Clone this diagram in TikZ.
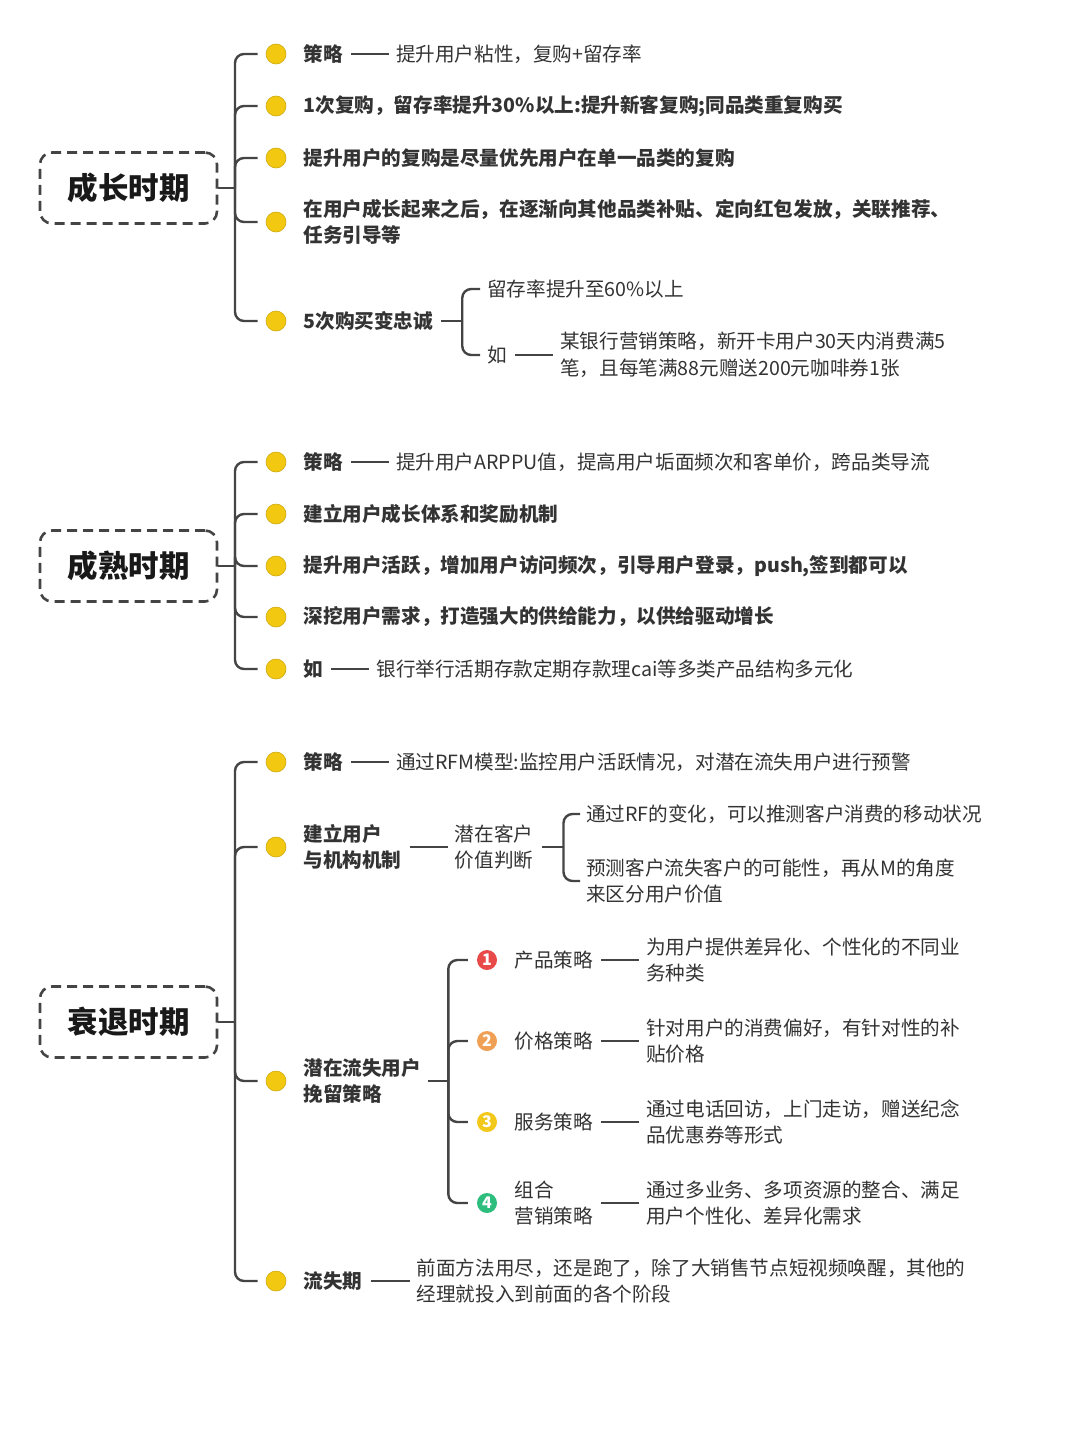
\documentclass[tikz,border=0pt]{standalone}
\usepackage{fontspec}
\setmainfont{Noto Sans CJK SC}
\usetikzlibrary{positioning}
\definecolor{linec}{HTML}{444444}
\definecolor{textc}{HTML}{333333}
\definecolor{dotc}{HTML}{F2C811}
\definecolor{numred}{HTML}{E84A4A}
\definecolor{numorange}{HTML}{F0A055}
\definecolor{numyellow}{HTML}{F2C81A}
\definecolor{numgreen}{HTML}{2DBE7E}
\begin{document}
\begin{tikzpicture}[
        x=1pt, y=-1pt,
        font=\fontsize{19.6}{26.5}\selectfont, text=textc,
        stage/.style={draw=linec, line width=2.6pt, dash pattern=on 10pt off 6pt, rounded corners=12pt, minimum width=177pt, minimum height=71pt, text=black!90, font=\fontsize{30.5}{36}\selectfont\bfseries},
        dot/.style={circle, fill=dotc, draw=dotc!85!black, line width=0.6pt, minimum size=20pt, inner sep=0pt},
        key/.style={anchor=west, inner sep=0pt, align=left, font=\fontsize{19.6}{26.5}\selectfont\bfseries},
        val/.style={anchor=west, inner sep=0pt, align=left},
        num/.style={circle, fill=#1, text=white, minimum size=20pt, inner sep=0pt, font=\fontsize{16}{16}\selectfont\bfseries},
        branch/.style={draw=linec, line width=2.4pt, rounded corners=9pt},
        link/.style={draw=linec, line width=2.4pt, shorten <=8pt, shorten >=7pt}
      ]
      \fill[white] (0,0) rectangle (1080,1440);
      \useasboundingbox (0,0) rectangle (1080,1440);

      % growth stage
      \node[stage] (grow) at (128.5,188) {成长时期};
      \coordinate (grow-j) at (235,188);
      \draw[branch] (grow.east) -- (grow-j);

      \node[dot] (g1) at (276,54) {};
      \node[key, right=17pt of g1] (g1k) {策略};
      \node[val, right=53pt of g1k] (g1v) {提升用户粘性，复购+留存率};
      \draw[link] (g1k) -- (g1v);
      \node[dot] (g2) at (276,106) {};
      \node[key, right=17pt of g2] (g2k) {1次复购，留存率提升30\%以上:提升新客复购;同品类重复购买};
      \node[dot] (g3) at (276,158) {};
      \node[key, right=17pt of g3] (g3k) {提升用户的复购是尽量优先用户在单一品类的复购};
      \node[dot] (g4) at (276,222) {};
      \node[key, right=17pt of g4] (g4k) {在用户成长起来之后，在逐渐向其他品类补贴、定向红包发放，关联推荐、\\任务引导等};
      \node[dot] (g5) at (276,321) {};
      \node[key, right=17pt of g5] (g5k) {5次购买变忠诚};
      \coordinate (g5-j) at ([xshift=29pt]g5k.east);
      \draw[branch] ([xshift=8pt]g5k.east) -- (g5-j);
      \node[val] (g5a) at (487,289) {留存率提升至60\%以上};
      \node[val] (g5b) at (487,355) {如};
      \node[val, right=53pt of g5b] (g5c) {某银行营销策略，新开卡用户30天内消费满5\\笔，且每笔满88元赠送200元咖啡券1张};
      \draw[link] (g5b) -- (g5c);
      \draw[branch] (g5-j) |- ([xshift=-7pt]g5a.west);
      \draw[branch] (g5-j) |- ([xshift=-7pt]g5b.west);

      \foreach \i in {1,...,5}
        \draw[branch] (grow-j) |- ([xshift=-8pt]g\i.west);

      % mature stage
      \node[stage] (mature) at (128.5,566) {成熟时期};
      \coordinate (mature-j) at (235,566);
      \draw[branch] (mature.east) -- (mature-j);

      \node[dot] (m1) at (276,462) {};
      \node[key, right=17pt of m1] (m1k) {策略};
      \node[val, right=53pt of m1k] (m1v) {提升用户ARPPU值，提高用户垢面频次和客单价，跨品类导流};
      \draw[link] (m1k) -- (m1v);
      \node[dot] (m2) at (276,514) {};
      \node[key, right=17pt of m2] (m2k) {建立用户成长体系和奖励机制};
      \node[dot] (m3) at (276,566) {};
      \node[key, right=17pt of m3] (m3k) {提升用户活跃，增加用户访问频次，引导用户登录，push,签到都可以};
      \node[dot] (m4) at (276,617) {};
      \node[key, right=17pt of m4] (m4k) {深挖用户需求，打造强大的供给能力，以供给驱动增长};
      \node[dot] (m5) at (276,669) {};
      \node[key, right=17pt of m5] (m5k) {如};
      \node[val, right=53pt of m5k] (m5v) {银行举行活期存款定期存款理cai等多类产品结构多元化};
      \draw[link] (m5k) -- (m5v);

      \foreach \i in {1,...,5}
        \draw[branch] (mature-j) |- ([xshift=-8pt]m\i.west);

      % decline stage
      \node[stage] (decline) at (128.5,1022) {衰退时期};
      \coordinate (decline-j) at (235,1022);
      \draw[branch] (decline.east) -- (decline-j);

      \node[dot] (d1) at (276,762) {};
      \node[key, right=17pt of d1] (d1k) {策略};
      \node[val, right=53pt of d1k] (d1v) {通过RFM模型:监控用户活跃情况，对潜在流失用户进行预警};
      \draw[link] (d1k) -- (d1v);

      \node[dot] (d2) at (276,847) {};
      \node[key, right=17pt of d2] (d2k) {建立用户\\与机构机制};
      \node[val, right=53pt of d2k] (d2v) {潜在客户\\价值判断};
      \draw[link] (d2k) -- (d2v);
      \coordinate (d2-j) at ([xshift=30pt]d2v.east);
      \draw[branch] ([xshift=8pt]d2v.east) -- (d2-j);
      \node[val] (d2a) at (586,814) {通过RF的变化，可以推测客户消费的移动状况};
      \node[val] (d2b) at (586,881) {预测客户流失客户的可能性，再从M的角度\\来区分用户价值};
      \draw[branch] (d2-j) |- ([xshift=-6pt]d2a.west);
      \draw[branch] (d2-j) |- ([xshift=-6pt]d2b.west);

      \node[dot] (d3) at (276,1081) {};
      \node[key, right=17pt of d3] (d3k) {潜在流失用户\\挽留策略};
      \coordinate (d3-j) at ([xshift=27pt]d3k.east);
      \draw[branch] ([xshift=7pt]d3k.east) -- (d3-j);
      \node[num=numred] (n1) at (487,960) {1};
      \node[num=numorange] (n2) at (487,1041) {2};
      \node[num=numyellow] (n3) at (487,1122) {3};
      \node[num=numgreen] (n4) at (487,1203) {4};
      \node[val, right=17pt of n1] (n1k) {产品策略};
      \node[val, right=53pt of n1k] (n1v) {为用户提供差异化、个性化的不同业\\务种类};
      \node[val, right=17pt of n2] (n2k) {价格策略};
      \node[val, right=53pt of n2k] (n2v) {针对用户的消费偏好，有针对性的补\\贴价格};
      \node[val, right=17pt of n3] (n3k) {服务策略};
      \node[val, right=53pt of n3k] (n3v) {通过电话回访，上门走访，赠送纪念\\品优惠券等形式};
      \node[val, right=17pt of n4] (n4k) {组合\\营销策略};
      \node[val, right=53pt of n4k] (n4v) {通过多业务、多项资源的整合、满足\\用户个性化、差异化需求};
      \foreach \i in {1,...,4} {
        \draw[link] (n\i k) -- (n\i v);
        \draw[branch] (d3-j) |- ([xshift=-9pt]n\i.west);
      }

      \node[dot] (d4) at (276,1281) {};
      \node[key, right=17pt of d4] (d4k) {流失期};
      \node[val, right=54pt of d4k] (d4v) {前面方法用尽，还是跑了，除了大销售节点短视频唤醒，其他的\\经理就投入到前面的各个阶段};
      \draw[link] (d4k) -- (d4v);

      \foreach \i in {1,...,4}
        \draw[branch] (decline-j) |- ([xshift=-8pt]d\i.west);
    \end{tikzpicture}
\end{document}
